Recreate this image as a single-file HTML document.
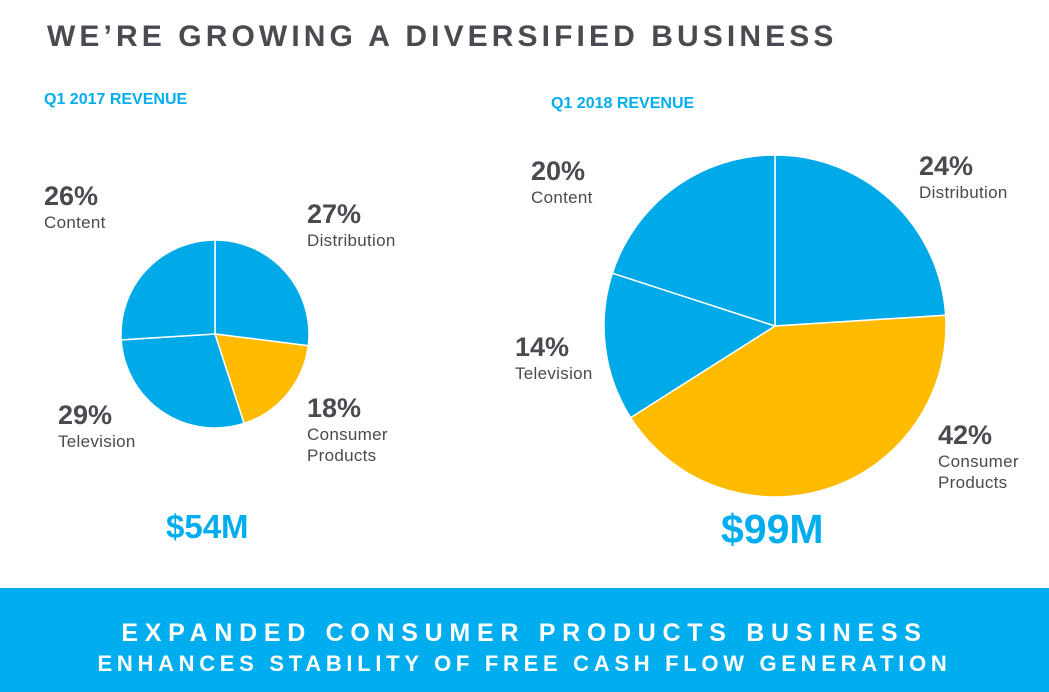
<!DOCTYPE html>
<html><head><meta charset="utf-8"><style>
body{margin:0;width:1049px;height:692px;background:#fff;font-family:"Liberation Sans",sans-serif;overflow:hidden;position:relative}
.t{position:absolute;white-space:nowrap}
.pct{font-weight:bold;font-size:27px;color:#4a4a50}
.lab{font-size:17px;color:#4a4a50;line-height:21px;letter-spacing:0.3px}
</style></head><body>
<div class="t" style="left:47px;top:20px;font-size:30px;font-weight:bold;letter-spacing:4.1px;color:#4a4a50">WE’RE GROWING A DIVERSIFIED BUSINESS</div>
<div class="t" style="left:44px;top:91px;font-size:16px;font-weight:bold;color:#00aeef">Q1 2017 REVENUE</div>
<div class="t" style="left:551px;top:95px;font-size:16px;font-weight:bold;color:#00aeef">Q1 2018 REVENUE</div>
<svg id="chart" width="1049" height="692" style="position:absolute;left:0;top:0"></svg>
<div class="t" style="left:44px;top:181px"><div class="pct">26%</div><div class="lab">Content</div></div>
<div class="t" style="left:307px;top:199px"><div class="pct">27%</div><div class="lab">Distribution</div></div>
<div class="t" style="left:58px;top:400px"><div class="pct">29%</div><div class="lab">Television</div></div>
<div class="t" style="left:307px;top:393px"><div class="pct">18%</div><div class="lab">Consumer<br>Products</div></div>
<div class="t" style="left:531px;top:156px"><div class="pct">20%</div><div class="lab">Content</div></div>
<div class="t" style="left:919px;top:151px"><div class="pct">24%</div><div class="lab">Distribution</div></div>
<div class="t" style="left:515px;top:332px"><div class="pct">14%</div><div class="lab">Television</div></div>
<div class="t" style="left:938px;top:420px"><div class="pct">42%</div><div class="lab">Consumer<br>Products</div></div>
<div class="t" style="left:166px;top:508px;font-size:33px;font-weight:bold;color:#00aeef">$54M</div>
<div class="t" style="left:721px;top:506px;font-size:41px;font-weight:bold;color:#00aeef">$99M</div>
<div style="position:absolute;left:0;top:588px;width:1049px;height:104px;background:#00aeef;color:#fff;font-weight:bold;text-align:center">
<div style="margin-top:30px;font-size:25px;letter-spacing:6.7px;line-height:30px">EXPANDED CONSUMER PRODUCTS BUSINESS</div>
<div style="font-size:22px;letter-spacing:4.7px;line-height:32px">ENHANCES STABILITY OF FREE CASH FLOW GENERATION</div>
</div>
<script>
const cats=["Distribution","Consumer Products","Television","Content"];
const vals2017=[27,18,29,26];
const vals2018=[24,42,14,20];
const colors=["#00a9e8","#ffbb00","#00a9e8","#00a9e8"];
const svg=document.getElementById('chart');
const NS="http://www.w3.org/2000/svg";
function drawPie(vals,cx,cy,r,id){
  const tot=vals.reduce((a,b)=>a+b,0);let a0=0;
  vals.forEach((v,i)=>{
    const a1=a0+v/tot*2*Math.PI;
    const x0=cx+r*Math.sin(a0),y0=cy-r*Math.cos(a0),x1=cx+r*Math.sin(a1),y1=cy-r*Math.cos(a1);
    const p=document.createElementNS(NS,'path');
    p.setAttribute('d',`M${cx},${cy}L${x0},${y0}A${r},${r} 0 ${a1-a0>Math.PI?1:0} 1 ${x1},${y1}Z`);
    p.setAttribute('fill',colors[i]);p.setAttribute('stroke','#fff');p.setAttribute('stroke-width','1.5');
    
    
    svg.appendChild(p);a0=a1;
  });
}
drawPie(vals2017,215,334,94,'2017');
drawPie(vals2018,775,326,171,'2018');
</script>
</body></html>
